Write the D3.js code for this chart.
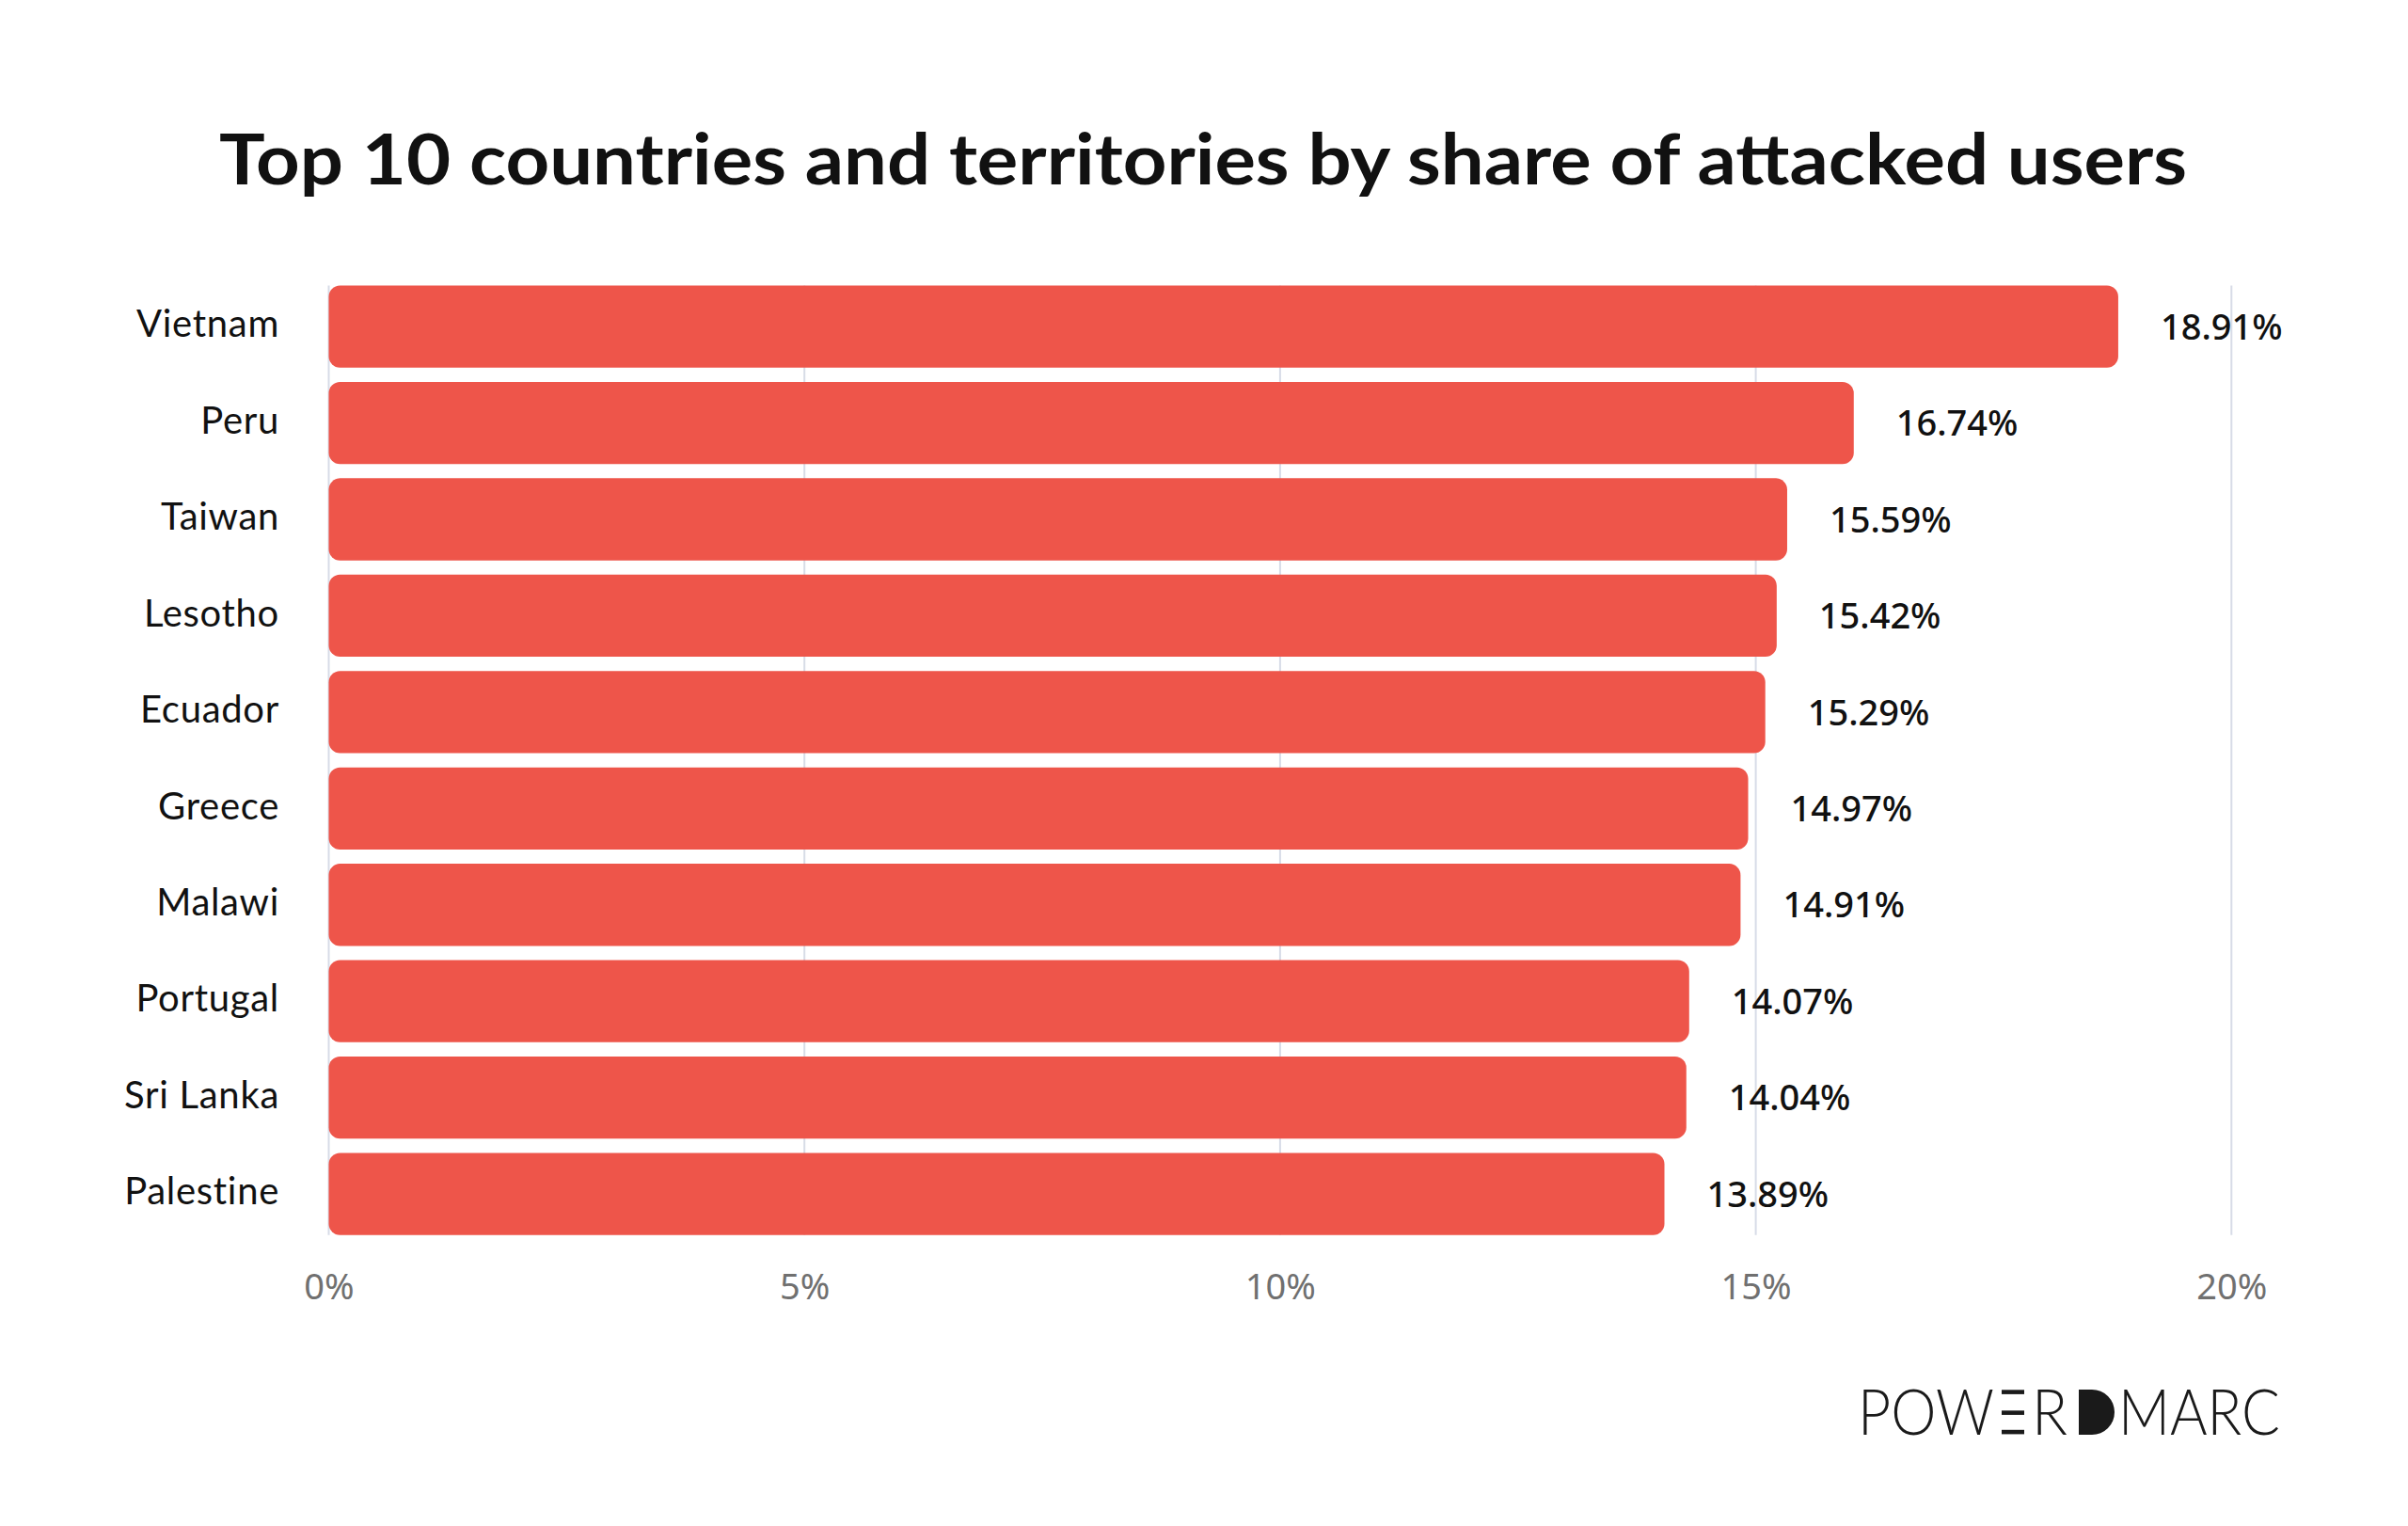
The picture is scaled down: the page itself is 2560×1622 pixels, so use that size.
<!DOCTYPE html>
<html>
<head>
<meta charset="utf-8">
<script src="https://cdn.jsdelivr.net/npm/d3@7"></script>
<style>
  html, body { margin: 0; padding: 0; background: #ffffff; }
  svg { display: block; }
</style>
</head>
<body>
<svg id="chart" width="2560" height="1622"></svg>
<script>
// ---- data ----
const categories = ["Vietnam", "Peru", "Taiwan", "Lesotho", "Ecuador", "Greece", "Malawi", "Portugal", "Sri Lanka", "Palestine"];
// bar lengths as drawn in the picture (percent)
const barValues = [18.81, 16.03, 15.33, 15.22, 15.10, 14.92, 14.84, 14.30, 14.27, 14.04];
// values printed next to the bars (percent)
const printedValues = [18.91, 16.74, 15.59, 15.42, 15.29, 14.97, 14.91, 14.07, 14.04, 13.89];
const tickValues = [0, 5, 10, 15, 20];
const tickLabels = ["0%", "5%", "10%", "15%", "20%"];
const titleText = "Top 10 countries and territories by share of attacked users";

// ---- layout ----
const svg = d3.select("#chart");
const x = d3.scaleLinear().domain([0, 20]).range([349.5, 2372.3]);
const y = d3.scaleBand().domain(categories).range([303.5, 1312.7]).paddingInner(0.148).paddingOuter(0);

// title
svg.append("text")
  .attr("x", 1279).attr("y", 196)
  .attr("text-anchor", "middle")
  .attr("font-family", "Lato, 'Open Sans', sans-serif")
  .attr("font-weight", 700)
  .attr("font-size", 75)
  .attr("fill", "#111111")
  .attr("textLength", 2092)
  .attr("lengthAdjust", "spacingAndGlyphs")
  .text(titleText);

// gridlines
svg.append("g").selectAll("line").data(tickValues).join("line")
  .attr("x1", d => x(d)).attr("x2", d => x(d))
  .attr("y1", y.range()[0]).attr("y2", y.range()[1])
  .attr("stroke", "#d7dce7").attr("stroke-width", 2);

// x axis (labels only)
const xAxis = d3.axisBottom(x).tickValues(tickValues)
  .tickFormat((d, i) => tickLabels[i]).tickSize(0).tickPadding(0);
const gx = svg.append("g").attr("transform", "translate(0,1381)").call(xAxis);
gx.select(".domain").remove();
gx.selectAll("text")
  .attr("font-family", "'Noto Sans', sans-serif")
  .attr("font-size", 38)
  .attr("fill", "#707070")
  .attr("dy", 0);

// bars
svg.append("g").selectAll("rect").data(categories).join("rect")
  .attr("x", x(0))
  .attr("y", d => y(d))
  .attr("width", (d, i) => x(barValues[i]) - x(0))
  .attr("height", y.bandwidth())
  .attr("rx", 12).attr("ry", 12)
  .attr("fill", "#EE554A");

// category labels
const yAxis = d3.axisLeft(y).tickSize(0).tickPadding(0);
const gy = svg.append("g").attr("transform", "translate(297,0)").call(yAxis);
gy.select(".domain").remove();
gy.selectAll("text")
  .attr("font-family", "Lato, 'Open Sans', sans-serif")
  .attr("font-size", 40)
  .attr("letter-spacing", "0.7px")
  .attr("fill", "#111111")
  .attr("dy", "0.28em");

// value labels
svg.append("g").selectAll("text").data(categories).join("text")
  .attr("x", (d, i) => x(barValues[i]) + 45)
  .attr("y", d => y(d) + y.bandwidth() / 2)
  .attr("dy", "0.36em")
  .attr("font-family", "'Noto Sans', sans-serif")
  .attr("font-weight", 500)
  .attr("font-size", 38)
  .attr("fill", "#111111")
  .text((d, i) => printedValues[i].toFixed(2) + "%");

// logo
const logo = svg.append("g").attr("fill", "#1a1a1a");
const logoFont = "Lato, 'Open Sans', sans-serif";
function logoText(str, x0, w) {
  logo.append("text")
    .attr("x", x0).attr("y", 1525)
    .attr("font-family", logoFont)
    .attr("font-weight", 300)
    .attr("font-size", 67)
    .attr("textLength", w)
    .attr("lengthAdjust", "spacingAndGlyphs")
    .text(str);
}
logoText("POW", 1975, 145);
[1477.3, 1499.3, 1519.8].forEach(yy => {
  logo.append("rect").attr("x", 2128).attr("y", yy).attr("width", 24).attr("height", 4.6);
});
logoText("R", 2160, 38);
logo.append("path").attr("d", "M2210,1477 H2224 A24,24 0 0 1 2224,1525 H2210 Z");
logoText("MARC", 2252, 172);
</script>
</body>
</html>
